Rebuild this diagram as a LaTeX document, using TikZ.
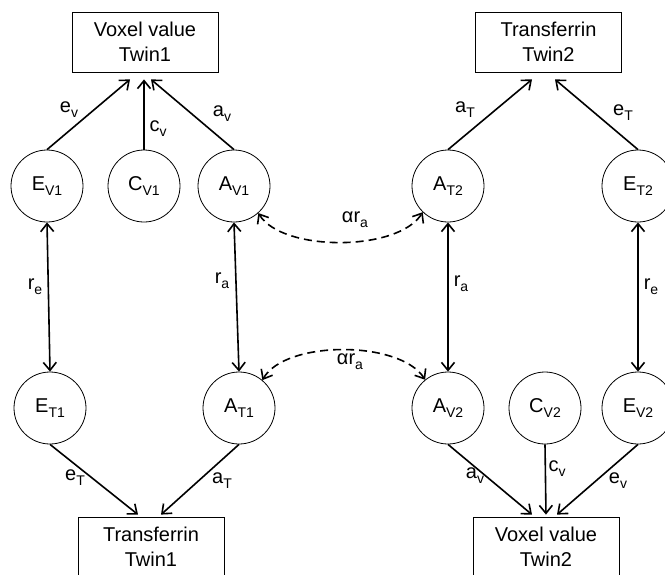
\documentclass[tikz,border=0pt]{standalone}
\usepackage{fontspec}
\setmainfont{Liberation Sans}
\usetikzlibrary{arrows.meta}
\newcommand\mysub[1]{\raisebox{-5pt}{\fontsize{14}{14}\selectfont #1}}
\begin{document}
\begin{tikzpicture}[x=1pt,y=-1pt,
  box/.style={draw,line width=0.8pt,minimum width=146pt,minimum height=60pt,align=center,inner sep=0pt,font=\fontsize{20}{25}\selectfont},
  latent/.style={circle,draw,line width=0.8pt,minimum size=72pt,inner sep=0pt,font=\fontsize{20}{24}\selectfont},
  tip/.tip={Straight Barb[length=8pt,width=13pt]},
  arr/.style={line width=1.6pt,-tip},
  dbl/.style={line width=1.6pt,tip-tip},
  cov/.style={line width=1.6pt,dash pattern=on 8pt off 5pt,tip-tip},
  lab/.style={inner sep=0pt,font=\fontsize{20}{24}\selectfont}]
\path[use as bounding box] (0,0) rectangle (665,574);
\clip (0,0) rectangle (665,574);
% boxes
\node[box] (vt1) at (145,42) {Voxel value\\Twin1};
\node[box] (tt2) at (548.5,42) {Transferrin\\Twin2};
\node[box] (tt1) at (151,547) {Transferrin\\Twin1};
\node[box] (vt2) at (546,547) {Voxel value\\Twin2};
% latent variables
\node[latent] (ev1) at (47,186) {E\mysub{V1}};
\node[latent] (cv1) at (144,186) {C\mysub{V1}};
\node[latent] (av1) at (234,186) {A\mysub{V1}};
\node[latent] (at2) at (448,186) {A\mysub{T2}};
\node[latent] (et2) at (638,186) {E\mysub{T2}};
\node[latent] (et1) at (50,408) {E\mysub{T1}};
\node[latent] (at1) at (239,408) {A\mysub{T1}};
\node[latent] (av2) at (448,408) {A\mysub{V2}};
\node[latent] (cv2) at (545,408) {C\mysub{V2}};
\node[latent] (ev2) at (638,408) {E\mysub{V2}};
% paths to observed
\draw[arr] (ev1.north) -- ([xshift=-15pt,yshift=-7pt]vt1.south);
\draw[arr] (cv1.north) -- ([xshift=-1pt,yshift=-7pt]vt1.south);
\draw[arr] (av1.north) -- ([xshift=6pt,yshift=-7pt]vt1.south);
\draw[arr] (at2.north) -- ([xshift=-16.5pt,yshift=-7pt]tt2.south);
\draw[arr] (et2.north) -- ([xshift=6.5pt,yshift=-7pt]tt2.south);
\draw[arr] (et1.south) -- ([xshift=-13pt,yshift=2pt]tt1.north);
\draw[arr] (at1.south) -- ([xshift=10pt,yshift=2pt]tt1.north);
\draw[arr] (av2.south) -- ([xshift=-14pt,yshift=2pt]vt2.north);
\draw[arr] (cv2.south) -- ([xshift=0pt,yshift=2pt]vt2.north);
\draw[arr] (ev2.south) -- ([xshift=11pt,yshift=2pt]vt2.north);
% correlations
\draw[dbl] (ev1.south) -- (et1.north);
\draw[dbl] (av1.south) -- (at1.north);
\draw[dbl] (at2.south) -- (av2.north);
\draw[dbl] (et2.south) -- (ev2.north);
\draw[cov] (av1.-48) .. controls (282,252) and (398,252) .. (at2.-134);
\draw[cov] (at1.50) .. controls (285,340) and (400,340) .. (av2.129);
% labels
\node[lab] (l1) at (69,110) {e\mysub{v}};
\node[lab] (l2) at (158,129) {c\mysub{v}};
\node[lab] (l3) at (222,114) {a\mysub{v}};
\node[lab] (l4) at (465,110) {a\mysub{T}};
\node[lab] (l5) at (623,113) {e\mysub{T}};
\node[lab] (l6) at (35,287) {r\mysub{e}};
\node[lab] (l7) at (222,281) {r\mysub{a}};
\node[lab] (l8) at (461,284) {r\mysub{a}};
\node[lab] (l9) at (651,287) {r\mysub{e}};
\node[lab] (l10) at (355,220) {αr\mysub{a}};
\node[lab] (l11) at (350,362) {αr\mysub{a}};
\node[lab] (l12) at (75,478) {e\mysub{T}};
\node[lab] (l13) at (222,481) {a\mysub{T}};
\node[lab] (l14) at (475,476) {a\mysub{v}};
\node[lab] (l15) at (557,469) {c\mysub{v}};
\node[lab] (l16) at (618,481) {e\mysub{v}};
\end{tikzpicture}
\end{document}
